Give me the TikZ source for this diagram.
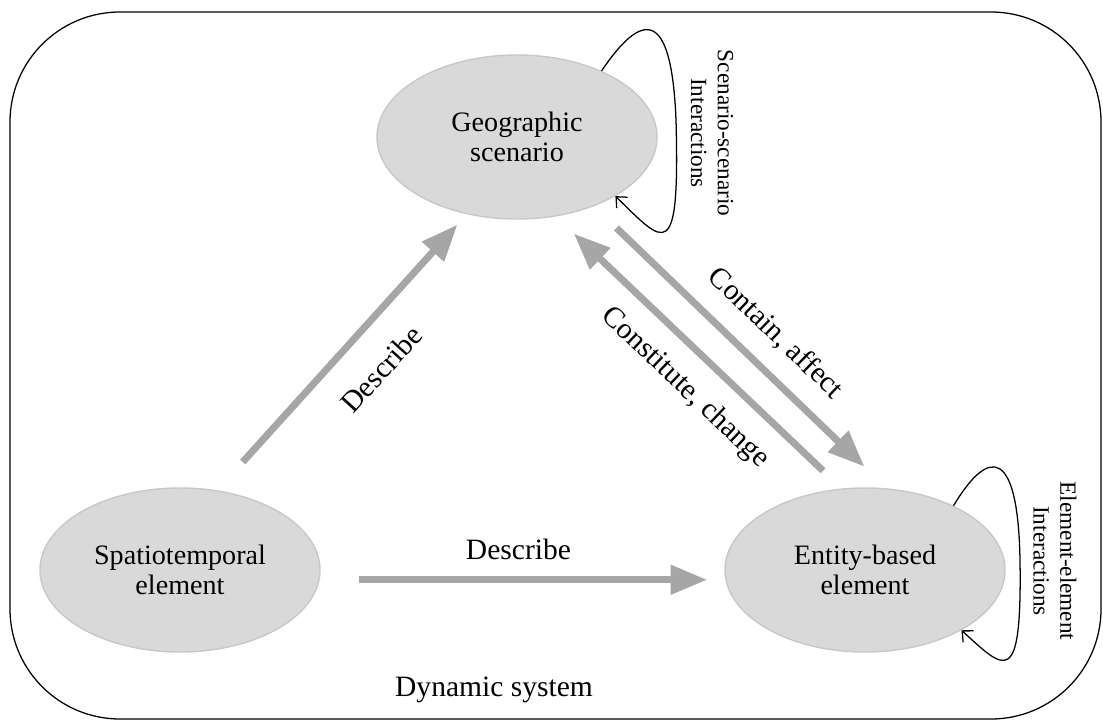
\documentclass[tikz,border=0pt]{standalone}
\usepackage{fontspec}
\setmainfont{Liberation Serif}
\usepackage{tikz}
\usetikzlibrary{shapes.geometric,arrows.meta,positioning}
\definecolor{scfill}{RGB}{217,217,217}
\definecolor{scedge}{RGB}{200,200,200}
\definecolor{flowgray}{RGB}{166,166,166}
\tikzstyle{concept} = [ellipse, minimum width=7cm, minimum height=4.1cm, inner sep=0pt, fill=scfill, draw=scedge, line width=1pt, align=center, font=\fontsize{20}{21.5}\selectfont]
\tikzstyle{flow} = [line width=5pt, color=flowgray, -{Triangle[length=26pt,width=20pt]}]
\tikzstyle{flowlabel} = [font=\fontsize{21}{24}\selectfont, text=black, sloped, inner sep=0pt]
\tikzstyle{selfloop} = [line width=0.9pt, -{Straight Barb[length=6pt,width=11pt]}]
\tikzstyle{looplabel} = [rotate=-90, align=center, font=\fontsize{16.5}{19}\selectfont]

\begin{document}
\begin{tikzpicture}[x=0.025cm, y=-0.025cm]
\useasboundingbox (0,0) rectangle (1103,721);
\draw[line width=0.9pt, rounded corners=2.75cm] (10,12) rectangle (1101,719);

\node[concept] (geo) at (517,137) {Geographic\\scenario};
\node[concept] (st) at (180,570) {Spatiotemporal\\element};
\node[concept] (ent) at (865,570) {Entity-based\\element};

\draw[flow, shorten <=0.95cm, shorten >=0.35cm] (st.65) -- node[flowlabel, pos=0.537, below=19pt] {Describe} (geo.-123);
\draw[flow, shorten <=0.98cm, shorten >=0.45cm] (st.-4) -- node[flowlabel, pos=0.49, above=12pt] {Describe} (ent.184);
\draw[flow, shorten <=0.78cm, shorten >=0.78cm] (geo.-42) -- node[flowlabel, pos=0.538, above=13pt] {Contain, affect} (ent.75);
\draw[flow, shorten <=0.64cm, shorten >=0.62cm] (ent.106) -- node[flowlabel, pos=0.463, below=13pt] {Constitute, change} (geo.-64);

\draw[selfloop] (geo.38) .. controls (648,2) and (672,20) .. (676,120) .. controls (680,265) and (665,245) .. (geo.-31);
\draw[selfloop] (ent.36) .. controls (990,445) and (1018,450) .. (1020,560) .. controls (1022,690) and (1005,670) .. (ent.-32);

\node[looplabel] (geoint) at (712,133) {Scenario-scenario\\Interactions};
\node[looplabel] (entint) at (1055,561) {Element-element\\Interactions};

\node[font=\fontsize{21}{24}\selectfont] (sys) at (494,690) {Dynamic system};
\end{tikzpicture}
\end{document}
